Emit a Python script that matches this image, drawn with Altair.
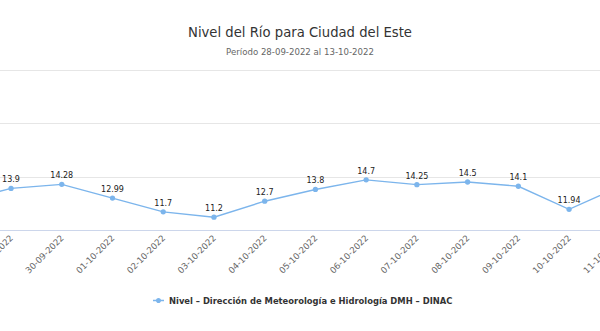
import altair as alt
import pandas as pd

fechas = ["2022-09-28", "2022-09-29", "2022-09-30", "2022-10-01", "2022-10-02",
          "2022-10-03", "2022-10-04", "2022-10-05", "2022-10-06", "2022-10-07",
          "2022-10-08", "2022-10-09", "2022-10-10", "2022-10-11"]
niveles = [12.7, 13.9, 14.28, 12.99, 11.7, 11.2, 12.7, 13.8, 14.7, 14.25,
           14.5, 14.1, 11.94, 14.05]
serie = "Nivel – Dirección de Meteorología e Hidrología DMH – DINAC"
y_ticks = [10, 15, 20, 25]

FONT = "DejaVu Sans"
COLOR = "#7cb5ec"

df = pd.DataFrame({"fecha": fechas, "nivel": niveles, "serie": [serie] * len(fechas)})


def dt(s):
    y, m, d = s.split("-")
    return alt.DateTime(year=int(y), month=int(m), date=int(d), utc=True)


x_enc = alt.X(
    "fecha:T",
    title=None,
    scale=alt.Scale(type="utc", domain=[dt(fechas[0]), dt(fechas[-1])],
                    range=[-39.7, 619.8]),
    axis=alt.Axis(values=[dt(f) for f in fechas],
                  labelExpr="utcFormat(datum.value, '%d-%m-%Y')",
                  labelAngle=-45, labelAlign="right",
                  labelBaseline="middle", labelFont=FONT, labelFontSize=8.6,
                  labelColor="#666666", labelPadding=6, ticks=False,
                  domainColor="#ccd6eb", domainWidth=1, grid=False,
                  labelOverlap=False, labelBound=False, labelFlush=False),
)
y_enc = alt.Y(
    "nivel:Q",
    title=None,
    scale=alt.Scale(domain=[10, 25], nice=False, zero=False),
    axis=alt.Axis(values=y_ticks, labels=False, ticks=False, domain=False,
                  grid=True, gridColor="#e6e6e6", gridWidth=1),
)

base = alt.Chart(df).encode(x=x_enc, y=y_enc)

legend_path = ("M-1,-0.12H1V0.12H-1Z"
               "M-0.47,0A0.47,0.47,0,1,1,0.47,0A0.47,0.47,0,1,1,-0.47,0Z")

line = base.mark_line(color=COLOR, strokeWidth=1.4)
points = base.mark_circle(size=28, opacity=1).encode(
    color=alt.Color("serie:N", scale=alt.Scale(range=[COLOR]),
                    legend=alt.Legend(title=None, orient="none", legendX=152,
                                      legendY=224, direction="horizontal",
                                      symbolType=legend_path, symbolSize=121,
                                      symbolOpacity=1,
                                      labelFont=FONT, labelFontSize=8.4,
                                      labelFontWeight="bold", labelColor="#333333",
                                      labelOffset=4, labelLimit=0))
)
labels = base.mark_text(baseline="bottom", dy=-4, font=FONT, fontSize=8,
                        color="#222222").encode(text=alt.Text("nivel:Q"))

chart = alt.layer(line, points, labels).properties(
    width=600,
    height=160,
    autosize=alt.AutoSizeParams(type="none"),
    padding={"left": 0, "right": 0, "top": 70, "bottom": 101},
    background="white",
    title=alt.TitleParams(
        text="Nivel del Río para Ciudad del Este",
        subtitle="Período 28-09-2022 al 13-10-2022",
        anchor="middle", font=FONT, fontSize=13.2, fontWeight="normal",
        color="#333333", subtitleFont=FONT, subtitleFontSize=8.6,
        subtitleColor="#666666", offset=12, subtitlePadding=8,
    ),
).configure_view(stroke=None)

chart.save("out.html", embed_options={"renderer": "svg", "actions": False})
